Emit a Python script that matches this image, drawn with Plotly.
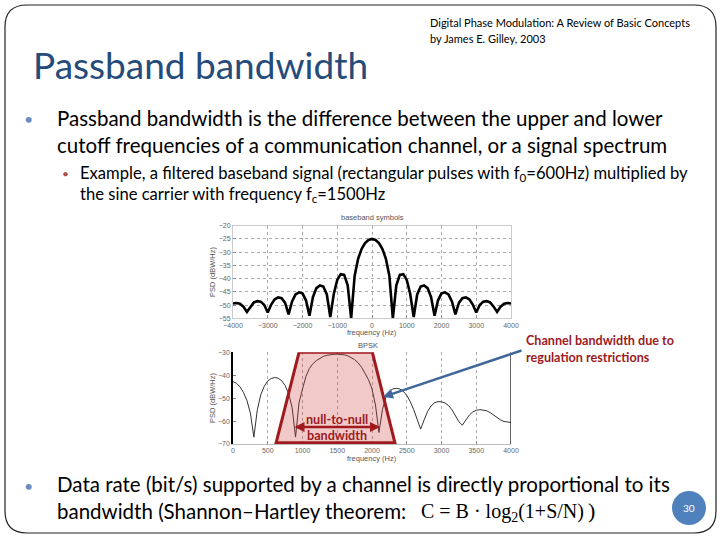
import plotly.graph_objects as go

# ---------------- data ----------------
bb_freq = list(range(-4000, 4001, 100))
bb_half = [-25.0, -25.4, -26.6, -28.8, -32.5, -39.0, -55.0, -42.5, -38.6, -38.3,
           -40.5, -45.8, -54.5, -46.0, -43.0, -42.6, -43.6, -47.0, -54.0, -48.2,
           -45.6, -45.2, -46.0, -48.6, -53.5, -49.2, -47.4, -47.1, -47.8, -49.8,
           -52.8, -50.0, -48.7, -48.5, -49.0, -50.6, -52.6, -50.6, -49.5, -49.2, -49.4]
bb_psd = bb_half[::-1] + bb_half[1:]

bpsk_freq = list(range(0, 4001, 50))
bpsk_psd = [-42.8, -43.5, -45.0, -47.5, -51.0, -56.5, -67.0, -55.0, -48.5, -44.8,
            -42.5, -41.4, -41.0, -41.3, -42.4, -44.5, -48.0, -54.0, -67.0, -52.0,
            -46.0, -40.5, -37.0, -35.0, -33.6, -32.5, -31.8, -31.3, -31.0, -30.9,
            -30.8, -30.9, -31.1, -31.5, -32.2, -33.2, -34.6, -36.5, -39.2, -42.0,
            -46.0, -53.0, -65.0, -55.0, -49.5, -47.0, -46.0, -45.7, -46.0, -47.0,
            -48.8, -51.5, -55.0, -59.5, -63.5, -59.5, -55.8, -53.4, -52.0, -51.5,
            -51.6, -52.1, -53.2, -55.0, -57.5, -60.3, -61.8, -59.5, -57.4, -56.0,
            -55.3, -55.0, -55.1, -55.5, -56.3, -57.4, -58.5, -59.5, -60.2, -60.5, -60.6]

bb_xticks = list(range(-4000, 4001, 1000))
bb_yticks = list(range(-55, -19, 5))
bpsk_xticks = list(range(0, 4001, 500))
bpsk_yticks = list(range(-70, -29, 10))

# trapezoid (channel mask) corners in data units of the BPSK plot
mask_x = [950, 2005, 2330, 620]
mask_y = [-30, -30, -69.5, -69.5]

W, H = 720, 540
def px(x): return x / W
def py(y): return 1 - y / H

fig = go.Figure()
fig.add_trace(go.Scatter(x=bb_freq, y=bb_psd, mode="lines",
                         line=dict(color="black", width=2.6), xaxis="x", yaxis="y",
                         showlegend=False))
fig.add_trace(go.Scatter(x=bpsk_freq, y=bpsk_psd, mode="lines",
                         line=dict(color="#333333", width=1), xaxis="x2", yaxis="y2",
                         showlegend=False))

tickfont = dict(family="Liberation Sans", size=7, color="#666666")
gridkw = dict(showgrid=True, gridcolor="#aaaaaa", griddash="dot", gridwidth=1,
              zeroline=False, tickfont=tickfont, ticks="inside", ticklen=3,
              tickcolor="#888888", automargin=False)

fig.update_layout(
    template="none",
    width=W, height=H, margin=dict(l=0, r=0, t=0, b=0, autoexpand=False),
    paper_bgcolor="white", plot_bgcolor="white",
    xaxis=dict(domain=[px(233), px(511)], range=[-4000, 4000], tickvals=bb_xticks,
               anchor="y", showline=True, linecolor="#cccccc", mirror=True, **gridkw),
    yaxis=dict(domain=[py(318.3), py(225.7)], range=[-55, -20], tickvals=bb_yticks,
               anchor="x", showline=True, linecolor="#cccccc", mirror=True, **gridkw),
    xaxis2=dict(domain=[px(233), px(511)], range=[0, 4000], tickvals=bpsk_xticks,
                anchor="y2", showline=True, linecolor="#bbbbbb", mirror=False, **gridkw),
    yaxis2=dict(domain=[py(444), py(352.3)], range=[-70, -30], tickvals=bpsk_yticks,
                anchor="x2", showline=True, linecolor="black", linewidth=1.5,
                mirror=False, **gridkw),
)
fig.update_layout(yaxis2_showgrid=False)

shapes = []
# slide frame
r = 22
x0, y0, x1, y1 = 5, 5, 716, 533
path = (f"M {px(x0)},{py(y0 + r)} Q {px(x0)},{py(y0)} {px(x0 + r)},{py(y0)} "
        f"L {px(x1 - r)},{py(y0)} Q {px(x1)},{py(y0)} {px(x1)},{py(y0 + r)} "
        f"L {px(x1)},{py(y1 - r)} Q {px(x1)},{py(y1)} {px(x1 - r)},{py(y1)} "
        f"L {px(x0 + r)},{py(y1)} Q {px(x0)},{py(y1)} {px(x0)},{py(y1 - r)} Z")
shapes.append(dict(type="path", xref="paper", yref="paper", path=path,
                   line=dict(color="#222222", width=1.2), layer="below"))
# right border of BPSK plot
shapes.append(dict(type="line", xref="x2", yref="y2", x0=4000, x1=4000, y0=-70, y1=-30,
                   line=dict(color="black", width=1.2)))
# channel mask trapezoid
tp = "M " + " L ".join(f"{a},{b}" for a, b in zip(mask_x, mask_y)) + " Z"
shapes.append(dict(type="path", xref="x2", yref="y2", path=tp,
                   fillcolor="rgba(205,60,60,0.28)",
                   line=dict(color="#A01A1E", width=3), layer="above"))
# page number circle
shapes.append(dict(type="circle", xref="paper", yref="paper",
                   x0=px(672), x1=px(706), y0=py(491), y1=py(525),
                   fillcolor="#4F81BD", line=dict(width=0)))
fig.update_layout(shapes=shapes)

ann = []
def txt(x, y, s, size, color="black", family="Lato", xanchor="left", **kw):
    ann.append(dict(xref="paper", yref="paper", x=px(x), y=py(y), text=s,
                    showarrow=False, xanchor=xanchor, yanchor="middle",
                    font=dict(family=family, size=size, color=color), **kw))

txt(31, 65, "Passband bandwidth", 37, color="#254B7A")
txt(428, 22, "Digital Phase Modulation: A Review of Basic Concepts", 11)
txt(428, 38, "by James E. Gilley, 2003", 11)

txt(22, 119, "•", 16, color="#6A8FBF")
txt(55, 118, "Passband bandwidth is the difference between the upper and lower", 20.5)
txt(55, 145, "cutoff frequencies of a communication channel, or a signal spectrum", 20.5)
txt(60, 173, "•", 12, color="#B0504A")
txt(78, 173, "Example, a filtered baseband signal (rectangular pulses with f<sub>0</sub>=600Hz) multiplied by", 16.6)
txt(78, 194, "the sine carrier with frequency f<sub>c</sub>=1500Hz", 16.6)

txt(22, 485, "•", 16, color="#6A8FBF")
txt(55, 484, "Data rate (bit/s) supported by a channel is directly proportional to its", 20.5)
txt(55, 511, "bandwidth (Shannon–Hartley theorem: ", 20.5)
txt(419, 512, "C = B · log<sub>2</sub>(1+S/N)", 20, family="Liberation Serif")
txt(586, 510, ")", 22, family="Liberation Serif")
txt(689, 508, "30", 10, color="white", xanchor="center")

# plot titles / axis titles
g = "#555555"
txt(372, 218, "baseband symbols", 7.5, color=g, family="Liberation Sans", xanchor="center")
txt(372, 332, "frequency (Hz)", 7.5, color=g, family="Liberation Sans", xanchor="center")
txt(212, 272, "PSD (dBW/Hz)", 7.5, color=g, family="Liberation Sans", xanchor="center", textangle=-90)
txt(368, 345, "BPSK", 7.5, color=g, family="Liberation Sans", xanchor="center")
txt(372, 458, "frequency (Hz)", 7.5, color=g, family="Liberation Sans", xanchor="center")
txt(212, 398, "PSD (dBW/Hz)", 7.5, color=g, family="Liberation Sans", xanchor="center", textangle=-90)

# red labels
txt(524, 340, "<b>Channel bandwidth due to</b>", 12.6, color="#9B1B1F")
txt(524, 357, "<b>regulation restrictions</b>", 12.6, color="#9B1B1F")
txt(337, 419, "<b>null-to-null</b>", 12.6, color="#9B1B1F", xanchor="center")
txt(337, 435, "<b>bandwidth</b>", 12.6, color="#9B1B1F", xanchor="center")

# arrows
ann.append(dict(xref="paper", yref="paper", x=px(383), y=py(397), ax=523 - 383, ay=350 - 397,
                text="", showarrow=True, arrowhead=2, arrowsize=0.8, arrowwidth=2.5,
                arrowcolor="#41679A"))
ann.append(dict(xref="paper", yref="paper", x=px(380), y=py(427), ax=293 - 380, ay=0,
                text="", showarrow=True, arrowhead=2, arrowside="end+start",
                arrowsize=0.8, arrowwidth=2.5, arrowcolor="#A01A1E"))
fig.update_layout(annotations=ann)

fig.write_html("out.html", config={"displayModeBar": False},
               post_script="document.body.style.margin='0';document.body.style.padding='0';")
